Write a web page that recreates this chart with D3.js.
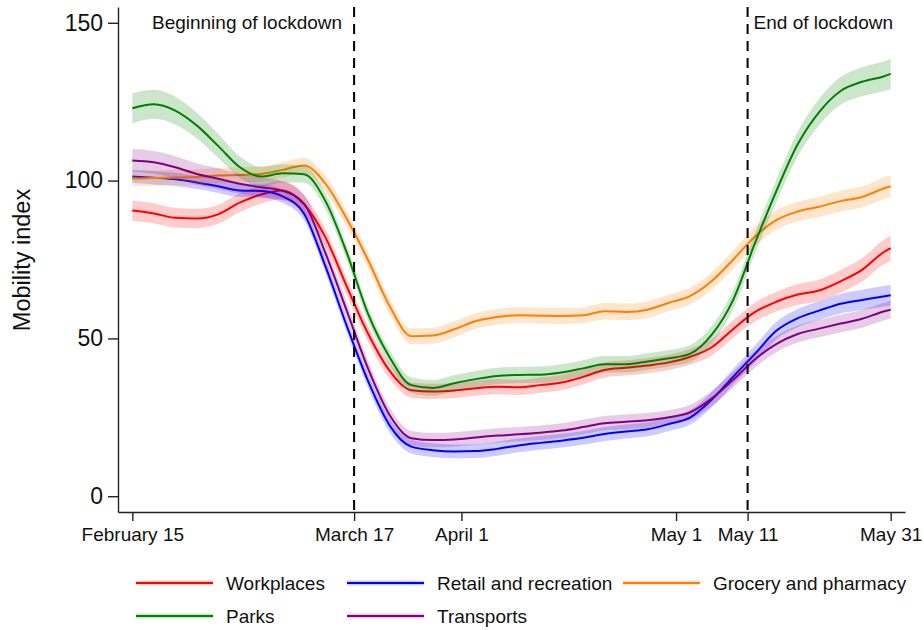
<!DOCTYPE html>
<html>
<head>
<meta charset="utf-8">
<script src="https://cdn.jsdelivr.net/npm/d3@7"></script>
<style>
  html, body { margin: 0; padding: 0; background: #fff; }
  svg { display: block; }
  text { font-family: "Liberation Sans", Arial, sans-serif; fill: #111; }
</style>
</head>
<body>
<svg id="chart" width="924" height="630"></svg>
<script>
// Days since 15 February 2020 at which the mobility index is sampled
const days = [0,3,6,9,12,15,18,21,24,27,30,33,36,39,42,45,48,51,54,57,60,63,66,69,72,75,78,81,84,87,90,93,96,99,102,105,106];

// Mobility index (7-day smoothed) for each category of place
const workplaces = [90.5,89.6,88.2,88.0,89.3,93.0,95.6,96.9,92.5,82.0,66.3,51.3,39.6,33.6,33.2,33.5,34.2,34.7,34.5,35.2,36.0,37.8,40.0,40.7,41.4,42.4,44.2,47.2,53.0,58.3,61.6,63.9,65.2,68.1,71.7,77.3,78.6];
const retail     = [101.3,100.9,100.4,99.4,98.2,96.9,96.7,95.0,89.5,72.8,53.8,36.2,22.3,15.7,14.6,14.2,14.3,15.0,16.1,16.9,17.6,18.5,19.7,20.5,21.2,22.9,25.0,30.6,37.9,45.0,52.4,56.4,58.8,61.0,62.2,63.3,63.7];
const grocery    = [100.6,100.8,101.0,101.1,101.6,101.8,102.1,103.4,104.8,99.0,87.8,74.6,60.1,50.7,50.9,52.9,55.5,56.8,57.3,57.2,57.1,57.3,58.6,58.4,59.1,61.3,63.5,68.2,75.0,82.2,87.5,90.2,91.7,93.5,94.8,97.5,98.2];
const parks      = [122.9,124.2,122.2,117.5,111.0,104.3,101.3,102.3,102.0,93.5,77.0,57.5,43.9,35.2,34.3,35.8,37.1,38.1,38.4,38.5,39.2,40.5,41.8,41.8,42.7,43.7,45.2,51.2,62.3,80.0,96.6,111.5,121.7,128.4,131.3,133.0,133.8];
const transports = [106.4,105.8,104.2,102.1,100.6,99.0,97.9,96.8,92.7,77.0,58.6,40.2,25.6,18.4,17.8,18.0,18.6,19.2,19.6,20.1,20.8,21.9,23.1,23.6,24.1,25.0,26.6,31.0,36.9,43.3,48.2,51.4,53.1,54.7,56.2,58.5,59.1];

// Half-width of the 95% confidence band around each series
const workplacesCI = [3.2,3.2,3.1,3.1,3.0,3.0,2.9,2.9,2.8,2.7,2.6,2.5,2.5,2.4,2.4,2.4,2.4,2.4,2.4,2.4,2.4,2.4,2.4,2.4,2.4,2.4,2.5,2.6,2.8,3.0,3.1,3.3,3.4,3.6,3.7,3.9,4.0];
const retailCI     = [2.1,2.1,2.1,2.1,2.1,2.1,2.1,2.1,2.1,2.1,2.1,2.1,2.2,2.2,2.2,2.2,2.2,2.2,2.2,2.2,2.2,2.2,2.2,2.2,2.2,2.2,2.3,2.4,2.5,2.7,2.8,2.9,3.0,3.1,3.2,3.3,3.3];
const groceryCI    = [2.4,2.4,2.4,2.4,2.4,2.4,2.4,2.4,2.4,2.5,2.5,2.5,2.5,2.5,2.5,2.5,2.5,2.5,2.5,2.5,2.5,2.5,2.6,2.6,2.6,2.6,2.7,2.8,2.9,3.0,3.1,3.1,3.2,3.3,3.3,3.4,3.4];
const parksCI      = [4.8,4.6,4.4,4.1,3.8,3.4,3.1,2.9,2.7,2.5,2.3,2.2,2.3,2.4,2.5,2.6,2.6,2.6,2.6,2.6,2.6,2.6,2.6,2.6,2.6,2.6,2.7,2.8,3.0,3.3,3.6,3.9,4.2,4.4,4.6,4.7,4.8];
const transportsCI = [3.6,3.6,3.5,3.4,3.3,3.2,3.1,3.0,2.9,2.8,2.7,2.5,2.4,2.3,2.3,2.3,2.3,2.3,2.3,2.3,2.3,2.3,2.3,2.3,2.3,2.3,2.4,2.4,2.5,2.6,2.6,2.7,2.7,2.8,2.8,2.8,2.8];

const seriesNames  = ["Workplaces", "Retail and recreation", "Grocery and pharmacy", "Parks", "Transports"];
const seriesColors = ["#ff0000", "#0000ff", "#ff7f00", "#008000", "#800080"];

// Axis ticks
const xTickDays   = [0, 31, 46, 76, 86, 106];
const xTickLabels = ["February 15", "March 17", "April 1", "May 1", "May 11", "May 31"];
const yTicks      = [0, 50, 100, 150];

// Lockdown markers
const eventDays   = [31, 86];
const eventLabels = ["Beginning of lockdown", "End of lockdown"];

const dayToDate = d => new Date(Date.UTC(2020, 1, 15 + d));

const svg = d3.select("#chart");

const x = d3.scaleUtc()
  .domain([dayToDate(-2), dayToDate(108)])
  .range([118, 905]);
const y = d3.scaleLinear()
  .domain([-5, 155])
  .range([512, 7]);

const valueSets = [workplaces, retail, grocery, parks, transports];
const ciSets = [workplacesCI, retailCI, groceryCI, parksCI, transportsCI];

const series = seriesNames.map((name, i) => ({
  name,
  color: seriesColors[i],
  points: days.map((d, j) => ({
    date: dayToDate(d),
    v: valueSets[i][j],
    lo: valueSets[i][j] - ciSets[i][j],
    hi: valueSets[i][j] + ciSets[i][j]
  }))
}));

const area = d3.area()
  .x(p => x(p.date))
  .y0(p => y(p.lo))
  .y1(p => y(p.hi))
  .curve(d3.curveMonotoneX);
const line = d3.line()
  .x(p => x(p.date))
  .y(p => y(p.v))
  .curve(d3.curveMonotoneX);

// Bands and lines, each series drawn in turn
const plot = svg.append("g");
series.forEach(s => {
  plot.append("path")
    .attr("d", area(s.points))
    .attr("fill", s.color)
    .attr("fill-opacity", 0.2)
    .attr("stroke", "none");
  plot.append("path")
    .attr("d", line(s.points))
    .attr("fill", "none")
    .attr("stroke", s.color)
    .attr("stroke-width", 2)
    .attr("stroke-linejoin", "round");
});

// Lockdown start / end markers
eventDays.forEach((d, i) => {
  const xp = x(dayToDate(d));
  svg.append("line")
    .attr("x1", xp).attr("x2", xp)
    .attr("y1", 7).attr("y2", 512)
    .attr("stroke", "#000")
    .attr("stroke-width", 2)
    .attr("stroke-dasharray", "10,7");
  svg.append("text")
    .attr("x", i === 0 ? xp - 12 : xp + 6)
    .attr("y", 29)
    .attr("text-anchor", i === 0 ? "end" : "start")
    .style("font-size", "19px")
    .text(eventLabels[i]);
});

// Y axis
const yAxis = svg.append("g")
  .attr("transform", "translate(118,0)")
  .call(d3.axisLeft(y).tickValues(yTicks).tickSize(10).tickSizeOuter(0).tickPadding(5));
yAxis.selectAll("text").style("font-size", "23px").attr("fill", "#111");

// X axis
const xAxis = svg.append("g")
  .attr("transform", "translate(0,512)")
  .call(d3.axisBottom(x)
    .tickValues(xTickDays.map(dayToDate))
    .tickFormat((d, i) => xTickLabels[i])
    .tickSize(9).tickSizeOuter(0));
xAxis.selectAll("text").style("font-size", "19px").attr("fill", "#111").attr("y", 29).attr("dy", 0);

svg.selectAll(".domain, .tick line").attr("stroke", "#222").attr("stroke-width", 1.4);

// Y axis title
svg.append("text")
  .attr("transform", "translate(22,260) rotate(-90)")
  .attr("text-anchor", "middle")
  .attr("dominant-baseline", "central")
  .style("font-size", "23.5px")
  .text("Mobility index");

// Legend
const legendCols = [136, 347, 623];
const legendRows = [583, 616];
const legend = svg.append("g");
series.forEach((s, i) => {
  const lx = legendCols[i % 3];
  const ly = legendRows[Math.floor(i / 3)];
  legend.append("rect")
    .attr("x", lx).attr("y", ly - 2.5)
    .attr("width", 77).attr("height", 5)
    .attr("fill", s.color).attr("fill-opacity", 0.2);
  legend.append("line")
    .attr("x1", lx).attr("x2", lx + 77)
    .attr("y1", ly).attr("y2", ly)
    .attr("stroke", s.color).attr("stroke-width", 2);
  legend.append("text")
    .attr("x", lx + 90).attr("y", ly)
    .attr("dominant-baseline", "central")
    .style("font-size", "19px")
    .text(s.name);
});
</script>
</body>
</html>
